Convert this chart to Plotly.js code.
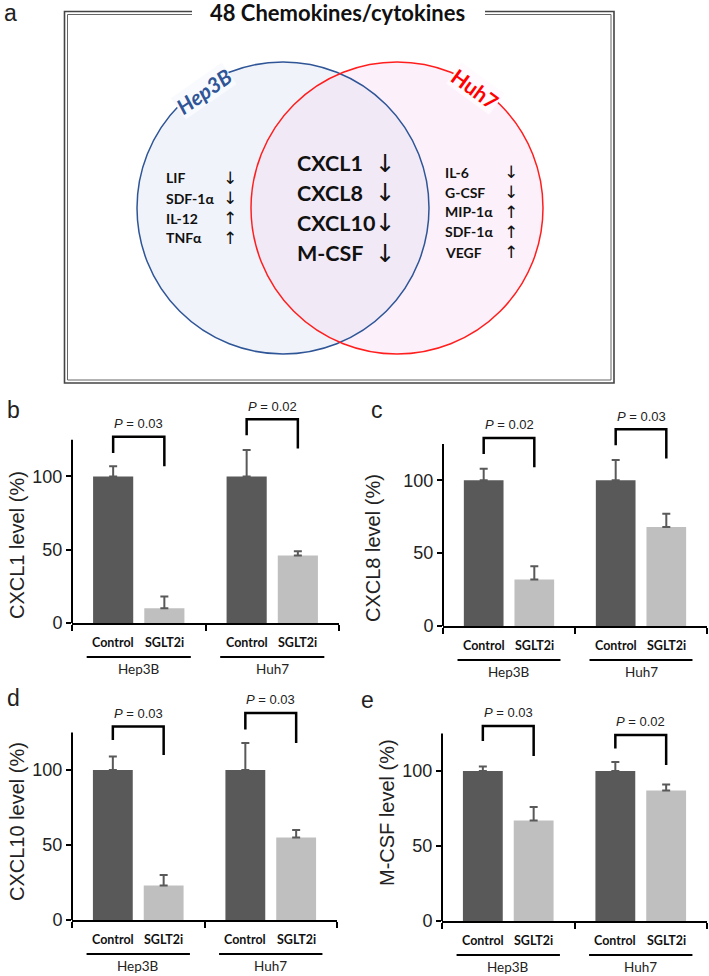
<!DOCTYPE html>
<html><head><meta charset="utf-8">
<script src="https://cdn.plot.ly/plotly-3.0.1.min.js"></script>
<style>body{margin:0;background:#fff}#chart{width:709px;height:976px}</style>
</head><body><div id="chart"></div>
<script>
// ---------- data ----------
const groups = ['Hep3B', 'Huh7'];
const conditions = ['Control', 'SGLT2i'];
const panelLetters = ['b', 'c', 'd', 'e'];
const analytes = ['CXCL1', 'CXCL8', 'CXCL10', 'M-CSF'];
const controlMeans = [[100, 100], [100, 100], [100, 100], [100, 100]];
const controlErr   = [[7, 18], [8, 14], [9, 18], [3, 6]];
const sglt2iMeans  = [[10, 46], [32, 68], [23, 55], [67, 87]];
const sglt2iErr    = [[8, 3], [9, 9], [7, 5], [9, 4]];
const pValues      = [['0.03', '0.02'], ['0.02', '0.03'], ['0.03', '0.03'], ['0.03', '0.02']];
const bracketTop      = [[127, 139], [129, 135], [129, 138], [130, 124]];
const bracketLeftEnd  = [[116, 128], [118, 124], [120, 127], [120, 115]];
const bracketRightEnd = [[107, 119], [109, 115], [110, 118], [110, 104]];
const yTicks = [0, 50, 100];

const vennTitle = '48 Chemokines/cytokines';
const setNames = ['Hep3B', 'Huh7'];
const hep3bOnly = ['LIF', 'SDF-1α', 'IL-12', 'TNFα'];
const hep3bDir  = ['↓', '↓', '↑', '↑'];
const shared    = ['CXCL1', 'CXCL8', 'CXCL10', 'M-CSF'];
const sharedDir = ['↓', '↓', '↓', '↓'];
const huh7Only  = ['IL-6', 'G-CSF', 'MIP-1α', 'SDF-1α', 'VEGF'];
const huh7Dir   = ['↓', '↓', '↑', '↑', '↑'];

// ---------- layout helpers ----------
const W = 709, H = 976;
const X = px => px / W;
const Y = py => 1 - py / H;
const SANS = 'Liberation Sans, Arial, sans-serif';
const CAL = 'Lato, Carlito, sans-serif';
const bargap = 0.233, bargroupgap = 0.216;
const off = (1 - bargap) / 4;
const yMax = 150, axisTop = 125;

const panels = [
  {left: 72,  right: 339, zero: 623, unit: 1.466, letter: [6, 410],   ytitle: [17, 545]},
  {left: 443, right: 707, zero: 626, unit: 1.457, letter: [370, 410], ytitle: [373, 548]},
  {left: 72,  right: 337, zero: 920, unit: 1.5,   letter: [6, 698],   ytitle: [17, 822]},
  {left: 442, right: 707, zero: 921, unit: 1.5,   letter: [360, 700], ytitle: [387, 813]}
];

const layout = {
  width: W, height: H, margin: {l: 0, r: 0, t: 0, b: 0},
  paper_bgcolor: '#ffffff', plot_bgcolor: 'rgba(0,0,0,0)',
  showlegend: false, barmode: 'group', bargap: bargap, bargroupgap: bargroupgap,
  font: {family: SANS, color: '#222'},
  shapes: [], annotations: []
};
const traces = [];

function note(o) {
  layout.annotations.push(Object.assign({showarrow: false, xanchor: 'center', yanchor: 'middle',
    xref: 'paper', yref: 'paper', borderpad: 0}, o));
}

panels.forEach((p, i) => {
  const sfx = i === 0 ? '' : String(i + 1);
  const xid = 'x' + sfx, yid = 'y' + sfx;
  const topPx = p.zero - yMax * p.unit;
  layout['xaxis' + sfx] = {
    domain: [X(p.left), X(p.right)], range: [-0.5, 1.5], type: 'linear',
    showline: true, linewidth: 2, linecolor: '#000',
    ticks: 'outside', tickmode: 'array', tickvals: [-0.5, 0.5, 1.5], ticklen: 6, tickwidth: 2, tickcolor: '#000',
    showticklabels: false, showgrid: false, zeroline: false, anchor: yid, fixedrange: true
  };
  layout['yaxis' + sfx] = {
    domain: [Y(p.zero), Y(topPx)], range: [0, yMax],
    showline: false, ticks: 'outside', tickmode: 'array', tickvals: yTicks, ticklen: 5, tickwidth: 2, tickcolor: '#000',
    tickfont: {size: 18, color: '#222', family: SANS},
    showgrid: false, zeroline: false, anchor: xid, fixedrange: true
  };
  const xs = groups.map((g, k) => k);
  const zeros = groups.map(() => 0);
  traces.push({
    type: 'bar', name: conditions[0], x: xs, y: controlMeans[i], xaxis: xid, yaxis: yid,
    marker: {color: '#595959'},
    error_y: {type: 'data', array: controlErr[i], arrayminus: zeros, symmetric: false, color: '#595959', thickness: 2, width: 4}
  });
  traces.push({
    type: 'bar', name: conditions[1], x: xs, y: sglt2iMeans[i], xaxis: xid, yaxis: yid,
    marker: {color: '#bfbfbf'},
    error_y: {type: 'data', array: sglt2iErr[i], arrayminus: zeros, symmetric: false, color: '#595959', thickness: 2, width: 4}
  });
  // y axis line up to 125
  layout.shapes.push({type: 'line', xref: xid + ' domain', yref: yid, x0: 0, x1: 0, y0: 0, y1: axisTop,
    line: {color: '#000', width: 2}});
  groups.forEach((g, k) => {
    const xl = k - off, xr = k + off;
    layout.shapes.push({type: 'path', xref: xid, yref: yid,
      path: `M ${xl},${bracketLeftEnd[i][k]} L ${xl},${bracketTop[i][k]} L ${xr},${bracketTop[i][k]} L ${xr},${bracketRightEnd[i][k]}`,
      line: {color: '#000', width: 2.5}});
    note({xref: xid, yref: yid, x: k, y: bracketTop[i][k] + 9,
      text: '<i>P</i> = ' + pValues[i][k], font: {size: 13, family: SANS, color: '#222'}});
    conditions.forEach((c, j) => {
      note({xref: xid, x: k + (j === 0 ? -off : off), y: Y(p.zero + 19),
        text: '<b>' + c + '</b>', font: {size: 12.5, family: CAL, color: '#111'}});
    });
    layout.shapes.push({type: 'line', xref: xid, yref: 'paper', x0: k - 0.39, x1: k + 0.39,
      y0: Y(p.zero + 34), y1: Y(p.zero + 34), line: {color: '#000', width: 2}});
    note({xref: xid, x: k, y: Y(p.zero + 46), text: g, font: {size: 13.5, family: CAL, color: '#222'}});
  });
  note({x: X(p.ytitle[0]), y: Y(p.ytitle[1]), textangle: -90,
    text: analytes[i] + ' level (%)', font: {size: 20, family: SANS, color: '#222'}});
  note({x: X(p.letter[0]), y: Y(p.letter[1]), xanchor: 'left',
    text: panelLetters[i], font: {size: 23, family: SANS, color: '#222'}});
});

// ---------- panel a (Venn) ----------
const vr = 146, vcy = 208, vc1 = 283, vc2 = 397;
[[64.5, 11.5, 1.6, '#444'], [67.5, 14.5, 1, '#666']].forEach(([l, t, w, col]) => {
  const r = 614 + 64.5 - l, b = 383 + 11.5 - t;
  layout.shapes.push({type: 'path', xref: 'paper', yref: 'paper',
    path: `M ${X(192)},${Y(t)} L ${X(l)},${Y(t)} L ${X(l)},${Y(b)} L ${X(r)},${Y(b)} L ${X(r)},${Y(t)} L ${X(485)},${Y(t)}`,
    line: {color: col, width: w}});
});
layout.shapes.push({type: 'circle', xref: 'paper', yref: 'paper', layer: 'below',
  x0: X(vc1 - vr), x1: X(vc1 + vr), y0: Y(vcy + vr), y1: Y(vcy - vr),
  fillcolor: '#f0f4fa', line: {width: 0}});
layout.shapes.push({type: 'circle', xref: 'paper', yref: 'paper', layer: 'below',
  x0: X(vc2 - vr), x1: X(vc2 + vr), y0: Y(vcy + vr), y1: Y(vcy - vr),
  fillcolor: 'rgba(246,208,240,0.3)', line: {width: 0}});
layout.shapes.push({type: 'circle', xref: 'paper', yref: 'paper',
  x0: X(vc1 - vr), x1: X(vc1 + vr), y0: Y(vcy + vr), y1: Y(vcy - vr),
  line: {color: '#2f5597', width: 1.5}});
layout.shapes.push({type: 'circle', xref: 'paper', yref: 'paper',
  x0: X(vc2 - vr), x1: X(vc2 + vr), y0: Y(vcy + vr), y1: Y(vcy - vr),
  line: {color: '#ff1e1e', width: 1.5}});

note({x: X(337), y: Y(13), text: '<b>' + vennTitle + '</b>', font: {size: 22, family: CAL, color: '#111'}});
note({x: X(3), y: Y(13), xanchor: 'left', text: 'a', font: {size: 23, family: SANS, color: '#222'}});
note({x: X(203), y: Y(91), textangle: -35,
  text: '<b><i>' + setNames[0] + '</i></b>', font: {size: 21, family: CAL, color: '#2f5597'},
  bgcolor: '#f8fafd'});
note({x: X(475), y: Y(89), textangle: 36,
  text: '<b>' + setNames[1] + '</b>', font: {size: 21, family: CAL, color: '#ff0000'},
  bgcolor: '#fefafd'});

function addList(names, dirs, xName, xArrow, y0, dy, size) {
  names.forEach((n, k) => {
    note({x: X(xName), y: Y(y0 + k * dy), xanchor: 'left',
      text: '<b>' + n + '</b>', font: {size: size, family: CAL, color: '#111'}});
    note({x: X(xArrow), y: Y(y0 + k * dy),
      text: dirs[k], font: {size: size + 3, family: 'DejaVu Sans, sans-serif', color: '#111'}});
  });
}
addList(hep3bOnly, hep3bDir, 165, 230, 178, 20, 14);
addList(shared, sharedDir, 296, 385, 163, 30, 21.5);
addList(huh7Only, huh7Dir, 444, 511, 172, 20, 14);

Plotly.newPlot('chart', traces, layout, {staticPlot: true, displayModeBar: false});
</script>
</body></html>
